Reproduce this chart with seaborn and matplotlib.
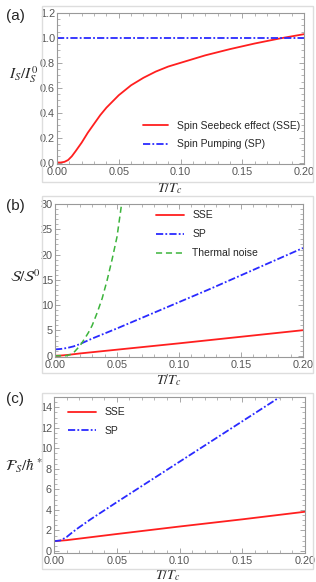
import numpy as np
import pandas as pd
import seaborn as sns
import matplotlib.pyplot as plt
from matplotlib.patches import Rectangle
from matplotlib.ticker import MultipleLocator

# (a) spin current
a_x = [0, 0.003, 0.006, 0.009, 0.012, 0.015, 0.02, 0.025, 0.03, 0.035, 0.04,
       0.05, 0.06, 0.07, 0.08, 0.09, 0.1, 0.12, 0.14, 0.16, 0.18, 0.2]
a_sse = [0.0, 0.0, 0.005, 0.02, 0.05, 0.09, 0.16, 0.24, 0.31, 0.38, 0.44,
         0.54, 0.62, 0.68, 0.73, 0.77, 0.80, 0.86, 0.91, 0.955, 0.995, 1.03]
a_sp_x = [0, 0.2]
a_sp = [1.0, 1.0]

# (b) noise
b_sse_x = [0, 0.005, 0.01, 0.015, 0.02, 0.03, 0.05, 0.1, 0.15, 0.2]
b_sse = [0, 0.05, 0.15, 0.3, 0.45, 0.7, 1.2, 2.45, 3.75, 5.05]
b_sp_x = [0, 0.005, 0.01, 0.015, 0.02, 0.025, 0.03, 0.04, 0.05, 0.075, 0.1,
          0.125, 0.15, 0.175, 0.2]
b_sp = [1.25, 1.35, 1.55, 1.85, 2.3, 2.85, 3.4, 4.4, 5.4, 8.0, 10.6,
        13.2, 15.9, 18.6, 21.3]
b_th_x = [0, 0.005, 0.009, 0.012, 0.015, 0.018, 0.021, 0.024, 0.027, 0.03,
          0.034, 0.038, 0.042, 0.046, 0.05, 0.054, 0.056]
b_th = [0, 0, 0.0, 0.2, 0.6, 1.4, 2.3, 3.4, 4.6, 6.0,
        8.5, 11.3, 14.9, 19.0, 23.5, 30.5, 33.5]

# (c) Fano factor
c_sse_x = [0, 0.01, 0.05, 0.1, 0.15, 0.2]
c_sse = [0.95, 1.05, 1.65, 2.38, 3.08, 3.82]
c_sp_x = [0, 0.005, 0.01, 0.015, 0.02, 0.03, 0.04, 0.05, 0.075, 0.1, 0.125,
          0.15, 0.175, 0.2]
c_sp = [0.95, 1.02, 1.35, 1.85, 2.3, 3.15, 3.95, 4.75, 6.72, 8.69, 10.66,
        12.63, 14.6, 16.6]

RED = "#ff1f1f"
BLUE = "#2a2aff"
GREEN = "#3cb43c"
DASHDOT = (0, (4, 1.2, 1, 1.2))
DASHED = (0, (4, 2.5))

sns.set_style("ticks")
plt.rcParams["font.family"] = ["Liberation Sans", "DejaVu Sans"]
plt.rcParams["mathtext.fontset"] = "stix"

fig = plt.figure(figsize=(3.16, 5.82), dpi=100)
W, H = 316, 582


def add_axes(left, right, top, bottom):
    return fig.add_axes([left / W, 1 - bottom / H, (right - left) / W, (bottom - top) / H])


def style(ax, ymajor, yminor):
    ax.xaxis.set_major_locator(MultipleLocator(0.05))
    ax.xaxis.set_minor_locator(MultipleLocator(0.01))
    ax.yaxis.set_major_locator(MultipleLocator(ymajor))
    ax.yaxis.set_minor_locator(MultipleLocator(yminor))
    ax.tick_params(which="both", direction="in", top=True, right=True,
                   color="#999999", labelcolor="#555555", labelsize=7.8)
    ax.tick_params(axis="y", pad=1.5)
    ax.tick_params(axis="x", pad=2.5)
    ax.tick_params(which="major", length=3.5, width=0.6)
    ax.tick_params(which="minor", length=2, width=0.5)
    for s in ax.spines.values():
        s.set_color("#999999")
        s.set_linewidth(0.8)
    ax.set_facecolor("white")


# outer boxes
for top, bottom in [(6, 182), (196, 373), (393, 569)]:
    fig.patches.append(Rectangle((42 / W, 1 - bottom / H), (313 - 42) / W, (bottom - top) / H,
                                 transform=fig.transFigure, fill=False,
                                 edgecolor="#dddddd", linewidth=1.0, zorder=0))

# (a)
ax = add_axes(57, 304, 13, 164)
sns.lineplot(x=a_x, y=a_sse, ax=ax, color=RED, lw=1.3, label="Spin Seebeck effect (SSE)")
sns.lineplot(x=a_sp_x, y=a_sp, ax=ax, color=BLUE, lw=1.3, linestyle=DASHDOT,
             label="Spin Pumping (SP)")
ax.set_xlim(0, 0.2)
ax.set_ylim(-0.012, 1.2)
ax.yaxis.set_major_formatter(plt.FormatStrFormatter("%.1f"))
ax.xaxis.set_major_formatter(plt.FormatStrFormatter("%.2f"))
style(ax, 0.2, 0.05)
ax.legend(loc="lower right", bbox_to_anchor=(1.0, 0.07), frameon=False, fontsize=7.5,
          handlelength=2.4, labelspacing=0.8, borderaxespad=0, handletextpad=0.8)
ax.set_ylabel(r"$I_S/I_S^0$", rotation=0, fontsize=11)
ax.yaxis.set_label_coords(-0.135, 0.52)
ax.set_xlabel(r"$T/T_c$", fontsize=10)
ax.xaxis.set_label_coords(0.457, -0.11)
fig.text(6 / W, 1 - 16 / H, "(a)", fontsize=11, va="center")

# (b)
ax = add_axes(55, 303, 204, 357)
sns.lineplot(x=b_sse_x, y=b_sse, ax=ax, color=RED, lw=1.3, label="SSE")
sns.lineplot(x=b_sp_x, y=b_sp, ax=ax, color=BLUE, lw=1.3, linestyle=DASHDOT, label="SP")
sns.lineplot(x=b_th_x, y=b_th, ax=ax, color=GREEN, lw=1.1, linestyle=DASHED,
             label="Thermal noise")
ax.set_xlim(0, 0.2)
ax.set_ylim(-0.25, 30)
ax.xaxis.set_major_formatter(plt.FormatStrFormatter("%.2f"))
style(ax, 5, 1)
ax.legend(loc="upper left", bbox_to_anchor=(0.39, 0.985), frameon=False, fontsize=7.5,
          handlelength=2.7, labelspacing=0.85, borderaxespad=0, handletextpad=0.8)
ax.set_ylabel(r"$\mathcal{S}/\mathcal{S}^0$", rotation=0, fontsize=11)
ax.yaxis.set_label_coords(-0.12, 0.47)
ax.set_xlabel(r"$T/T_c$", fontsize=10)
ax.xaxis.set_label_coords(0.46, -0.1)
fig.text(6 / W, 1 - 206 / H, "(b)", fontsize=11, va="center")

# (c)
ax = add_axes(54, 305, 397, 553)
sns.lineplot(x=c_sse_x, y=c_sse, ax=ax, color=RED, lw=1.3, label="SSE")
sns.lineplot(x=c_sp_x, y=c_sp, ax=ax, color=BLUE, lw=1.3, linestyle=DASHDOT, label="SP")
ax.set_xlim(0, 0.2)
ax.set_ylim(-0.2, 15)
ax.xaxis.set_major_formatter(plt.FormatStrFormatter("%.2f"))
style(ax, 2, 0.5)
ax.legend(loc="upper left", bbox_to_anchor=(0.04, 0.96), frameon=False, fontsize=7.5,
          handlelength=2.7, labelspacing=0.8, borderaxespad=0, handletextpad=0.8)
ax.set_ylabel(r"$\mathcal{F}_S/\hbar^*$", rotation=0, fontsize=11)
ax.yaxis.set_label_coords(-0.12, 0.5)
ax.set_xlabel(r"$T/T_c$", fontsize=10)
ax.xaxis.set_label_coords(0.455, -0.088)
fig.text(6 / W, 1 - 399 / H, "(c)", fontsize=11, va="center")

fig.savefig("out.png", dpi=100)
plt.close(fig)
